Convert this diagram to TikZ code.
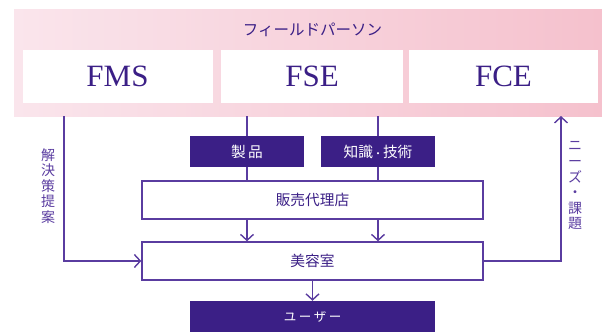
\documentclass[tikz,border=0pt]{standalone}
\usepackage{fontspec}
\setmainfont{Liberation Serif}
\newfontfamily\jp{Noto Sans CJK JP}[Scale=1]
\usetikzlibrary{arrows.meta}
\definecolor{deep}{HTML}{3B1F86}
\definecolor{linec}{HTML}{5A3CA0}
\definecolor{pinkL}{HTML}{FAE5EC}
\definecolor{pinkR}{HTML}{F5C1CD}
\begin{document}
\begin{tikzpicture}[x=1pt,y=-1pt,
  wbox/.style={fill=white,draw=none,inner sep=0pt,text=deep,font=\fontsize{31}{31}\selectfont},
  dbox/.style={fill=deep,draw=none,inner sep=0pt,text=white,font=\jp\fontsize{14.7}{15}\selectfont},
  obox/.style={fill=white,draw=linec,line width=1.4pt,inner sep=0pt,text=deep,font=\jp\fontsize{14.7}{15}\selectfont},
  conn/.style={draw=linec,line width=1.4pt},
  arr/.style={conn,-{Straight Barb[length=6pt,width=13pt,line width=1.4pt]}},
  vlab/.style={text=linec,font=\jp\fontsize{14}{15.6}\selectfont,align=center,inner sep=0pt}]
\useasboundingbox (0,0) rectangle (602,332);
% pink band
\node[left color=pinkL,right color=pinkR,draw=none,inner sep=0pt,minimum width=588pt,minimum height=107pt] (fp) at (308,62.5) {};
\node[text=deep,font=\jp\fontsize{15.5}{15.5}\selectfont,inner sep=0pt] (fpt) at (312.5,30) {フィールドパーソン};
\node[wbox,minimum width=190pt,minimum height=53pt] (fms) at (117.5,76.5) {FMS};
\node[wbox,minimum width=182pt,minimum height=53pt] (fse) at (312,76.5) {FSE};
\node[wbox,minimum width=189pt,minimum height=53pt] (fce) at (503.5,76.5) {FCE};
% coordinates on pink bottom
\coordinate (p1) at (64,116);
\coordinate (p2) at (247,116);
\coordinate (p3) at (378,116);
\coordinate (p4) at (561,116);
% boxes
\node[dbox,minimum width=114pt,minimum height=31pt] (seihin) at (247,151.5) {製\,品};
\node[dbox,minimum width=114pt,minimum height=31pt] (chishiki) at (378,151.5) {知識{\fontsize{10}{10}\selectfont ・}技術};
\node[obox,minimum width=341pt,minimum height=38pt] (hanbai) at (312.5,200) {販売代理店};
\node[obox,minimum width=341pt,minimum height=38pt] (biyou) at (312.5,261) {美容室};
\node[dbox,minimum width=245pt,minimum height=31pt,font=\jp\fontsize{12.5}{12.5}\selectfont] (user) at (312.5,316.5) {ユ\hspace{2.5pt}ー\hspace{2.5pt}ザ\hspace{2.5pt}ー};
% connectors
\draw[conn] (p2) -- (seihin.north);
\draw[conn] (seihin.south) -- (hanbai.north -| seihin.south);
\draw[conn] (p3) -- (chishiki.north);
\draw[conn] (chishiki.south) -- (hanbai.north -| chishiki.south);
\draw[arr] (hanbai.south -| seihin.south) -- (biyou.north -| seihin.south);
\draw[arr] (hanbai.south -| chishiki.south) -- (biyou.north -| chishiki.south);
\draw[arr] (biyou.south) -- (user.north);
\draw[arr] (p1) |- (biyou.west);
\draw[arr] (biyou.east) -| (p4);
% vertical labels
\node[vlab] (l1) at (48,186) {解\\決\\策\\提\\案};
\node[vlab] (l2) at (575,186) {ニ\\ー\\ズ\\・\\課\\題};
\end{tikzpicture}
\end{document}
